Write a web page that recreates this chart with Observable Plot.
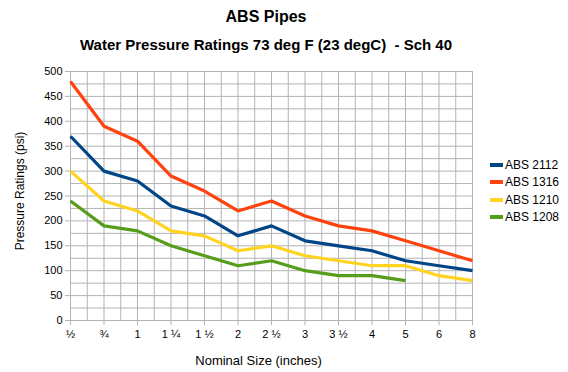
<!DOCTYPE html>
<html><head><meta charset="utf-8">
<script src="https://cdn.jsdelivr.net/npm/d3@7"></script>
<script src="https://cdn.jsdelivr.net/npm/@observablehq/plot@0.6"></script>
<style>
body{margin:0;background:#fff;font-family:"Liberation Sans",Arial,sans-serif;}
#wrap{position:relative;width:568px;height:372px;}
.t{position:absolute;left:0;width:532px;text-align:center;font-weight:bold;color:#000;white-space:nowrap;}
#legend{position:absolute;left:490px;top:156px;font-size:12px;}
#legend div{height:17.5px;display:flex;align-items:center;}
#legend span.sw{display:inline-block;width:13px;height:4px;margin-right:2px;}
</style></head>
<body><div id="wrap">
<div class="t" style="top:8px;font-size:16px;">ABS Pipes</div>
<div class="t" style="top:36px;font-size:15px;">Water Pressure Ratings 73 deg F (23 degC)&nbsp; - Sch 40</div>
<div id="chart" style="position:absolute;left:0;top:0;"></div>
<div id="legend"></div>
</div>
<script>
const categories = ["½","¾","1","1 ¼","1 ½","2","2 ½","3","3 ½","4","5","6","8"];
const seriesNames = ["ABS 2112","ABS 1316","ABS 1210","ABS 1208"];
const abs2112 = [370,300,280,230,210,170,190,160,150,140,120,110,100];
const abs1316 = [480,390,360,290,260,220,240,210,190,180,160,140,120];
const abs1210 = [300,240,220,180,170,140,150,130,120,110,110,90,80];
const abs1208 = [240,190,180,150,130,110,120,100,90,90,80];
const colors = ["#004586","#ff420e","#ffd320","#579d1c"];
const yTicks = [0,50,100,150,200,250,300,350,400,450,500];

const seriesVals = [abs2112,abs1316,abs1210,abs1208];
const data = [];
seriesVals.forEach((vals,si)=>vals.forEach((v,i)=>data.push({series:seriesNames[si], i, cat:categories[i], v})));
const xIdx = categories.map((c,i)=>i);
const xMinor = d3.range(0, categories.length-0.99, 0.5);
const yMinor = d3.range(0, 501, 25);

const plot = Plot.plot({
  width:568, height:372,
  marginLeft:70, marginRight:96, marginTop:71, marginBottom:52,
  style:{fontFamily:"Liberation Sans, Arial, sans-serif", fontSize:"11px", color:"#000", background:"transparent"},
  x:{type:"linear", domain:[0,categories.length-1]},
  y:{domain:[0,500]},
  color:{domain:seriesNames, range:colors},
  marks:[
    Plot.ruleX(xMinor,{stroke:"#b3b3b3", strokeWidth:1, strokeOpacity:1}),
    Plot.ruleY(yMinor,{stroke:"#b3b3b3", strokeWidth:1, strokeOpacity:1}),
    Plot.axisX(xIdx,{tickSize:5, tickPadding:5, tickFormat:i=>categories[i], label:null, stroke:"#b3b3b3", fontSize:11}),
    Plot.axisY(yTicks,{tickSize:5, tickPadding:3, label:null, stroke:"#b3b3b3", fontSize:11}),
    Plot.ruleX([0],{stroke:"#b3b3b3"}),
    Plot.line(data,{x:"i", y:"v", z:"series", stroke:"series", strokeWidth:3.2, strokeLinejoin:"miter", strokeLinecap:"butt"}),
    Plot.text(["Nominal Size (inches)"],{frameAnchor:"bottom", dx:-13, dy:40, lineAnchor:"middle", fontSize:13}),
    Plot.text(["Pressure Ratings (psi)"],{frameAnchor:"left", dx:-50, dy:-5, rotate:-90, textAnchor:"middle", lineAnchor:"middle", fontSize:12})
  ]
});
document.getElementById("chart").appendChild(plot);

const lg = document.getElementById("legend");
seriesNames.forEach((n,i)=>{
  const d=document.createElement("div");
  d.innerHTML=`<span class="sw" style="background:${colors[i]}"></span>${n}`;
  lg.appendChild(d);
});
</script>
</body></html>
